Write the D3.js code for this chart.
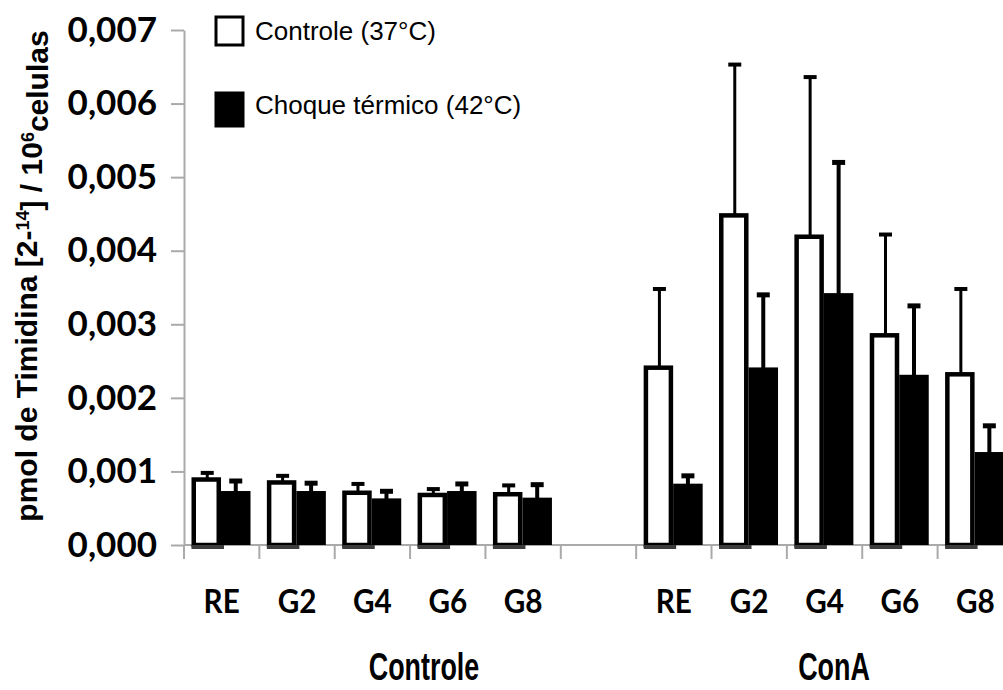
<!DOCTYPE html>
<html>
<head>
<meta charset="utf-8">
<script src="https://cdn.jsdelivr.net/npm/d3@7/dist/d3.min.js"></script>
<style>
  html, body { margin: 0; padding: 0; background: #fff; }
  svg { display: block; }
</style>
</head>
<body>
<script>
// Incorporação de timidina: controle (37°C) vs choque térmico (42°C)
const categories = ["RE", "G2", "G4", "G6", "G8"];
const groups = ["Controle", "ConA"];
const seriesNames = ["Controle (37°C)", "Choque térmico (42°C)"];

const controleMean37 = [0.00089, 0.00085, 0.00071, 0.00068, 0.00069];
const controleErr37  = [0.00009, 0.00009, 0.00012, 0.00008, 0.00012];
const controleMean42 = [0.00072, 0.00072, 0.00062, 0.00072, 0.00063];
const controleErr42  = [0.00015, 0.00012, 0.00011, 0.00011, 0.00019];

const conaMean37 = [0.00241, 0.00448, 0.00419, 0.00285, 0.00232];
const conaErr37  = [0.00107, 0.00205, 0.00217, 0.00137, 0.00116];
const conaMean42 = [0.00082, 0.00240, 0.00341, 0.00230, 0.00125];
const conaErr42  = [0.00012, 0.00100, 0.00179, 0.00095, 0.00037];

const yTicks = [0, 0.001, 0.002, 0.003, 0.004, 0.005, 0.006, 0.007];

const W = 1003, H = 690;
const svg = d3.select("body").append("svg")
  .attr("width", W).attr("height", H)
  .attr("viewBox", `0 0 ${W} ${H}`);

// slots: five categories per group with an empty slot between the groups
const slots = [
  ...categories.map(c => "Controle|" + c),
  "gap",
  ...categories.map(c => "ConA|" + c)
];

const axisColor = "#aaaaaa";
const labelFont = "Lato, Carlito, 'Open Sans', sans-serif";
const x0 = d3.scaleBand().domain(slots).range([184, 184 + slots.length * 75.36]).padding(0);
const x1 = d3.scaleBand().domain(["37", "42"]).range([7.5, 66.5]).padding(0);
const y = d3.scaleLinear().domain([0, 0.007]).range([545, 30]);

const rows = [];
categories.forEach((c, i) => {
  rows.push({slot: "Controle|" + c, s: "37", v: controleMean37[i], e: controleErr37[i]});
  rows.push({slot: "Controle|" + c, s: "42", v: controleMean42[i], e: controleErr42[i]});
  rows.push({slot: "ConA|" + c, s: "37", v: conaMean37[i], e: conaErr37[i]});
  rows.push({slot: "ConA|" + c, s: "42", v: conaMean42[i], e: conaErr42[i]});
});

const locale = d3.formatLocale({decimal: ",", thousands: ".", grouping: [3], currency: ["", ""]});
const fmt = locale.format(".3f");

// y axis
const yAxis = d3.axisLeft(y).tickValues(yTicks).tickFormat(fmt)
  .tickSize(13).tickSizeOuter(0).tickPadding(14);
const gy = svg.append("g").attr("transform", "translate(184,0)").call(yAxis);
gy.select(".domain").attr("stroke", axisColor).attr("stroke-width", 2);
gy.selectAll(".tick line").attr("stroke", axisColor).attr("stroke-width", 2);
gy.selectAll(".tick text")
  .attr("fill", "#000")
  .style("font-family", labelFont)
  .style("font-weight", "bold")
  .style("font-size", "35px");

// x baseline and slot boundary ticks
svg.append("line")
  .attr("x1", 184).attr("x2", W).attr("y1", y(0)).attr("y2", y(0))
  .attr("stroke", axisColor).attr("stroke-width", 2);
const boundaries = slots.map(s => x0(s)).concat([x0(slots[slots.length - 1]) + x0.bandwidth()]);
svg.append("g").selectAll("line").data(boundaries).join("line")
  .attr("x1", d => d).attr("x2", d => d)
  .attr("y1", y(0)).attr("y2", y(0) + 14)
  .attr("stroke", axisColor).attr("stroke-width", 2);

// error bars (upper only), drawn beneath the bars
const eb = svg.append("g");
rows.forEach(r => {
  const cx = x0(r.slot) + x1(r.s) + x1.bandwidth() / 2 + (r.s === "37" ? 1 : 0);
  const lw = r.s === "37" ? 3 : 4;
  eb.append("line")
    .attr("x1", cx).attr("x2", cx)
    .attr("y1", y(r.v)).attr("y2", y(r.v + r.e))
    .attr("stroke", "#000").attr("stroke-width", lw);
  eb.append("line")
    .attr("x1", cx - 6.5).attr("x2", cx + 6.5)
    .attr("y1", y(r.v + r.e)).attr("y2", y(r.v + r.e))
    .attr("stroke", "#000").attr("stroke-width", r.s === "37" ? 4 : 5);
});

// bars
const sw = 4.5;
const bars = svg.append("g");
rows.forEach(r => {
  const bx = x0(r.slot) + x1(r.s);
  const bw = x1.bandwidth();
  if (r.s === "37") {
    bars.append("rect")
      .attr("x", bx + sw / 2).attr("width", bw - sw)
      .attr("y", y(r.v)).attr("height", y(0) - y(r.v))
      .attr("fill", "#fff").attr("stroke", "#000").attr("stroke-width", sw);
  } else {
    bars.append("rect")
      .attr("x", bx).attr("width", bw)
      .attr("y", y(r.v) - 1).attr("height", y(0) - y(r.v) + 1)
      .attr("fill", "#000");
  }
});
// dark bottom edge under each open bar
rows.filter(r => r.s === "37").forEach(r => {
  const bx = x0(r.slot) + x1(r.s);
  bars.append("line")
    .attr("x1", bx).attr("x2", bx + x1.bandwidth() + 3)
    .attr("y1", y(0) + 2).attr("y2", y(0) + 2)
    .attr("stroke", "#3c3c3c").attr("stroke-width", 4);
});

// category labels
svg.append("g").selectAll("text")
  .data(slots.filter(s => s !== "gap")).join("text")
  .attr("transform", d => `translate(${x0(d) + x0.bandwidth() / 2},613) scale(0.9,1)`)
  .attr("text-anchor", "middle")
  .style("font-family", labelFont)
  .style("font-weight", "bold")
  .style("font-size", "33px")
  .text(d => d.split("|")[1]);

// group labels (condensed bold)
const groupX = {"Controle": 424, "ConA": 834};
svg.append("g").selectAll("text").data(groups).join("text")
  .attr("transform", d => `translate(${groupX[d]},680) scale(0.69,1)`)
  .attr("text-anchor", "middle")
  .style("font-family", "'Liberation Sans', Arial, sans-serif")
  .style("font-weight", "bold")
  .style("font-size", "39px")
  .text(d => d);

// y axis title
const title = svg.append("text")
  .attr("transform", "translate(37,276) rotate(-90)")
  .attr("text-anchor", "middle")
  .style("font-family", "'Liberation Sans', Arial, sans-serif")
  .style("font-weight", "bold")
  .style("font-size", "30px");
title.append("tspan").text("pmol de Timidina [2-");
title.append("tspan").attr("dy", "-0.45em").style("font-size", "18px").text("14");
title.append("tspan").attr("dy", "0.45em").text("] / 10");
title.append("tspan").attr("dy", "-0.45em").style("font-size", "18px").text("6");
title.append("tspan").attr("dy", "0.45em").text("celulas");

// legend
const legend = svg.append("g");
const legendItems = [
  {name: seriesNames[0], fill: "#fff", y0: 17, h: 28, ty: 40},
  {name: seriesNames[1], fill: "#000", y0: 93, h: 33, ty: 114}
];
legendItems.forEach(d => {
  legend.append("rect")
    .attr("x", 216).attr("y", d.y0).attr("width", 27).attr("height", d.h)
    .attr("fill", d.fill).attr("stroke", "#000").attr("stroke-width", 3);
  legend.append("text")
    .attr("x", 255).attr("y", d.ty)
    .style("font-family", "'Liberation Sans', Arial, sans-serif")
    .style("font-size", "26px")
    .text(d.name);
});
</script>
</body>
</html>
